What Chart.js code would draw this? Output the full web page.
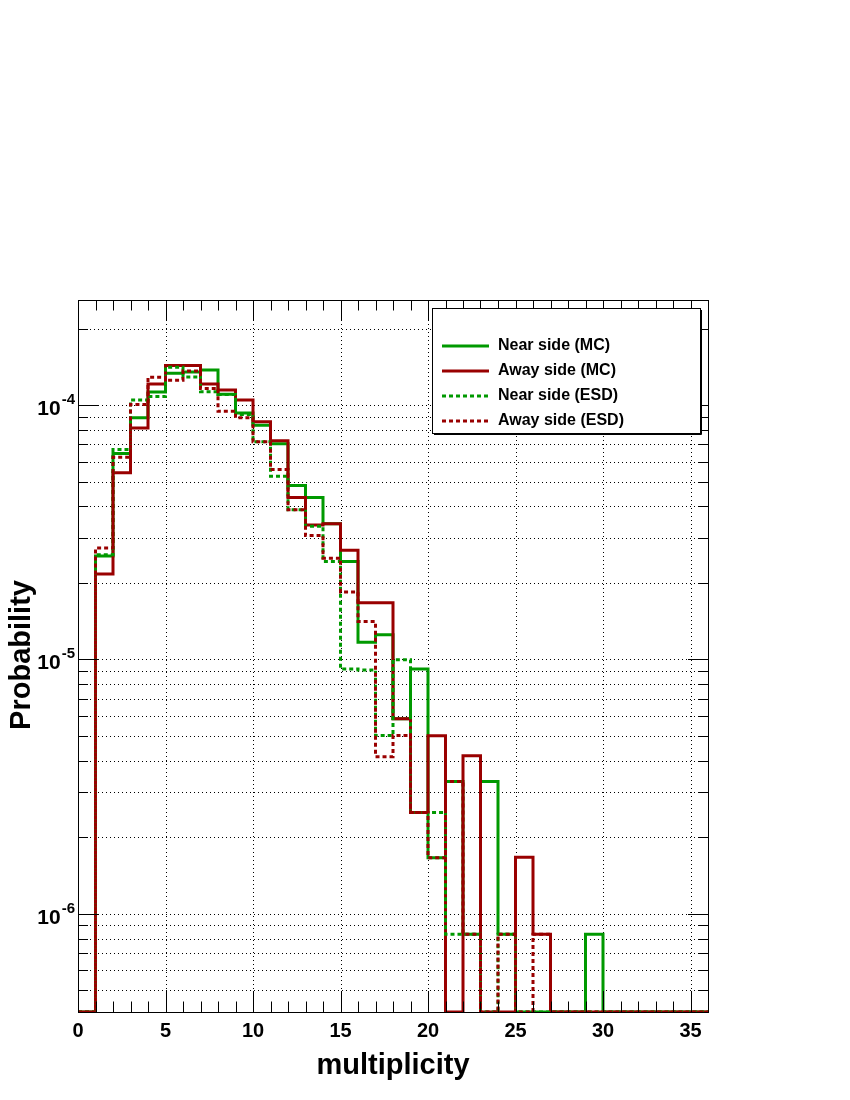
<!DOCTYPE html>
<html>
<head>
<meta charset="utf-8">
<script src="https://cdn.jsdelivr.net/npm/chart.js@4/dist/chart.umd.min.js"></script>
<style>
  html, body { margin: 0; padding: 0; background: #ffffff; }
  #wrap { width: 850px; height: 1100px; position: relative; }
</style>
</head>
<body>
<div id="wrap"><canvas id="c"></canvas></div>
<script>
// ---- data (bin lower edges, bin width 1) ----
const binStart = [0,1,2,3,4,5,6,7,8,9,10,11,12,13,14,15,16,17,18,19,20,21,22,23,24,25,26,27,28,29,30,31,32,33,34,35];
const binEnd = 36;

const nearMC = [0, 2.55e-5, 6.45e-5, 8.92e-5, 1.126e-4, 1.333e-4, 1.349e-4, 1.373e-4, 1.102e-4, 9.3e-5,
  8.34e-5, 7.05e-5, 4.83e-5, 4.33e-5, 3.42e-5, 2.43e-5, 1.17e-5, 1.25e-5, 5.85e-6, 9.17e-6,
  1.66e-6, 3.31e-6, 8.32e-7, 3.31e-6, 8.32e-7, 0, 0, 0, 0, 8.32e-7,
  0, 0, 0, 0, 0, 0];
const awayMC = [0, 2.17e-5, 5.42e-5, 8.12e-5, 1.21e-4, 1.43e-4, 1.43e-4, 1.21e-4, 1.146e-4, 1.046e-4,
  8.60e-5, 7.24e-5, 4.33e-5, 3.38e-5, 3.42e-5, 2.69e-5, 1.67e-5, 1.67e-5, 5.85e-6, 2.50e-6,
  5.01e-6, 0, 4.18e-6, 0, 0, 1.67e-6, 8.32e-7, 0, 0, 0,
  0, 0, 0, 0, 0, 0];
const nearESD = [0, 2.58e-5, 6.69e-5, 1.046e-4, 1.082e-4, 1.41e-4, 1.29e-4, 1.129e-4, 1.10e-4, 9.19e-5,
  7.17e-5, 5.25e-5, 3.88e-5, 3.34e-5, 2.43e-5, 9.17e-6, 9.1e-6, 5.02e-6, 9.97e-6, 2.50e-6,
  2.50e-6, 8.32e-7, 8.32e-7, 0, 8.32e-7, 0, 0, 0, 0, 0,
  0, 0, 0, 0, 0, 0];
const awayESD = [0, 2.74e-5, 6.24e-5, 1.006e-4, 1.288e-4, 1.253e-4, 1.36e-4, 1.163e-4, 9.45e-5, 8.92e-5,
  7.17e-5, 5.58e-5, 3.88e-5, 3.07e-5, 2.50e-5, 1.84e-5, 1.41e-5, 4.15e-6, 5.02e-6, 2.50e-6,
  1.66e-6, 3.31e-6, 8.32e-7, 0, 8.32e-7, 0, 8.32e-7, 0, 0, 0,
  0, 0, 0, 0, 0, 0];

const seriesNames = ['Near side (MC)', 'Away side (MC)', 'Near side (ESD)', 'Away side (ESD)'];
const xTickLabels = ['0','5','10','15','20','25','30','35'];
const yDecadeExps = [-6, -5, -4];
const xTitle = 'multiplicity';
const yTitle = 'Probability';

// ---- styling ----
const GREEN = '#009900';
const RED = '#990000';
const Y_MIN = 4.113e-7;
const Y_MAX = 2.589e-4;
const FONT = '"Liberation Sans", Arial, Helvetica, sans-serif';

// histogram as step line: point at each bin start carries that bin's value;
// 'before' stepping draws horizontal at previous value, then the vertical edge.
function histPoints(vals) {
  const pts = [];
  binStart.forEach((x, i) => {
    if (i === 0) pts.push({ x: x, y: vals[0] > 0 ? vals[0] : Y_MIN });
    const v = vals[i] > 0 ? vals[i] : Y_MIN;
    const nextX = (i + 1 < binStart.length) ? binStart[i + 1] : binEnd;
    pts.push({ x: nextX, y: v });
  });
  return pts;
}

function ds(label, vals, color, dashed, order) {
  return {
    label: label,
    data: histPoints(vals),
    borderColor: color,
    backgroundColor: color,
    borderWidth: 3,
    borderDash: dashed ? [4, 3] : [],
    borderCapStyle: 'butt',
    borderJoinStyle: 'miter',
    stepped: 'after',
    pointRadius: 0,
    fill: false,
    tension: 0,
    order: order
  };
}

const rootStyle = {
  id: 'rootStyle',
  beforeDatasetsDraw(chart) {
    const { ctx, chartArea: a, scales: { x, y } } = chart;
    ctx.save();
    ctx.strokeStyle = '#000';
    ctx.lineWidth = 1;
    ctx.setLineDash([1, 3]);
    for (let v = 5; v < binEnd; v += 5) {
      const px = Math.round(x.getPixelForValue(v)) + 0.5;
      ctx.beginPath(); ctx.moveTo(px, a.top); ctx.lineTo(px, a.bottom); ctx.stroke();
    }
    for (let e = -7; e <= -3; e++) {
      for (let m = 1; m <= 9; m++) {
        const v = m * Math.pow(10, e);
        if (v <= Y_MIN * 1.001 || v >= Y_MAX) continue;
        const py = Math.round(y.getPixelForValue(v)) + 0.5;
        ctx.beginPath(); ctx.moveTo(a.left, py); ctx.lineTo(a.right, py); ctx.stroke();
      }
    }
    ctx.restore();
  },
  afterDatasetsDraw(chart) {
    const { ctx, chartArea: a, scales: { x, y } } = chart;
    ctx.save();
    ctx.setLineDash([]);
    ctx.strokeStyle = '#000';
    ctx.lineWidth = 1;
    ctx.strokeRect(a.left + 0.5, a.top + 0.5, a.right - a.left, a.bottom - a.top);
    for (let v = 1; v < binEnd; v++) {
      const len = (v % 5 === 0) ? 21 : 10.5;
      const px = Math.round(x.getPixelForValue(v)) + 0.5;
      ctx.beginPath();
      ctx.moveTo(px, a.bottom); ctx.lineTo(px, a.bottom - len);
      ctx.moveTo(px, a.top); ctx.lineTo(px, a.top + len);
      ctx.stroke();
    }
    for (let e = -7; e <= -3; e++) {
      for (let m = 1; m <= 9; m++) {
        const v = m * Math.pow(10, e);
        if (v <= Y_MIN || v >= Y_MAX) continue;
        const len = (m === 1) ? 20 : 10;
        const py = Math.round(y.getPixelForValue(v)) + 0.5;
        ctx.beginPath();
        ctx.moveTo(a.left, py); ctx.lineTo(a.left + len, py);
        ctx.moveTo(a.right, py); ctx.lineTo(a.right - len, py);
        ctx.stroke();
      }
    }
    ctx.fillStyle = '#000';
    ctx.font = 'bold 20px ' + FONT;
    ctx.textAlign = 'center';
    ctx.textBaseline = 'middle';
    xTickLabels.forEach(t => {
      ctx.fillText(t, x.getPixelForValue(Number(t)), 1031);
    });
    yDecadeExps.forEach(e => {
      const py = y.getPixelForValue(Math.pow(10, e));
      const base = '10', sup = String(e);
      ctx.font = 'bold 21px ' + FONT;
      const bw = ctx.measureText(base).width;
      ctx.font = 'bold 15px ' + FONT;
      const sw = ctx.measureText(sup).width;
      const x0 = 75 - sw - bw - 1;
      ctx.textAlign = 'left';
      ctx.textBaseline = 'alphabetic';
      ctx.font = 'bold 21px ' + FONT;
      ctx.fillText(base, x0, py + 10);
      ctx.font = 'bold 15px ' + FONT;
      ctx.fillText(sup, x0 + bw + 1, py - 1);
    });
    ctx.font = 'bold 29px ' + FONT;
    ctx.textAlign = 'center';
    ctx.textBaseline = 'middle';
    ctx.fillText(xTitle, 393, 1066);
    ctx.save();
    ctx.translate(22, 655);
    ctx.rotate(-Math.PI / 2);
    ctx.fillText(yTitle, 0, 0);
    ctx.restore();
    const bx = 432, by = 308, bw2 = 268, bh = 125;
    ctx.fillStyle = '#fff';
    ctx.fillRect(bx, by, bw2, bh);
    ctx.strokeStyle = '#000';
    ctx.lineWidth = 1;
    ctx.strokeRect(bx + 0.5, by + 0.5, bw2, bh);
    ctx.beginPath();
    ctx.moveTo(bx + bw2 + 1.5, by + 2); ctx.lineTo(bx + bw2 + 1.5, by + bh + 1.5); ctx.lineTo(bx + 2, by + bh + 1.5);
    ctx.stroke();
    chart.data.datasets.forEach((d, i) => {
      const ry = 346 + i * 25;
      ctx.save();
      ctx.strokeStyle = d.borderColor;
      ctx.lineWidth = 3;
      ctx.setLineDash(d.borderDash || []);
      ctx.beginPath(); ctx.moveTo(442, ry); ctx.lineTo(489, ry); ctx.stroke();
      ctx.restore();
      ctx.fillStyle = '#000';
      ctx.font = 'bold 16px ' + FONT;
      ctx.textAlign = 'left';
      ctx.textBaseline = 'middle';
      ctx.fillText(d.label, 498, ry);
    });
    ctx.restore();
  }
};

new Chart(document.getElementById('c'), {
  type: 'line',
  data: {
    datasets: [
      ds(seriesNames[0], nearMC, GREEN, false, 3),
      ds(seriesNames[1], awayMC, RED, false, 2),
      ds(seriesNames[2], nearESD, GREEN, true, 1),
      ds(seriesNames[3], awayESD, RED, true, 0)
    ]
  },
  options: {
    responsive: true,
    maintainAspectRatio: false,
    animation: false,
    layout: { padding: { left: 78, right: 142, top: 300, bottom: 88 } },
    plugins: { legend: { display: false }, tooltip: { enabled: false } },
    scales: {
      x: {
        type: 'linear', min: 0, max: binEnd,
        ticks: { display: false }, grid: { display: false, drawTicks: false }, border: { display: false },
        afterFit(s) { s.height = 0; }
      },
      y: {
        type: 'logarithmic', min: Y_MIN, max: Y_MAX,
        ticks: { display: false }, grid: { display: false, drawTicks: false }, border: { display: false },
        afterFit(s) { s.width = 0; }
      }
    }
  },
  plugins: [rootStyle]
});
</script>
</body>
</html>
